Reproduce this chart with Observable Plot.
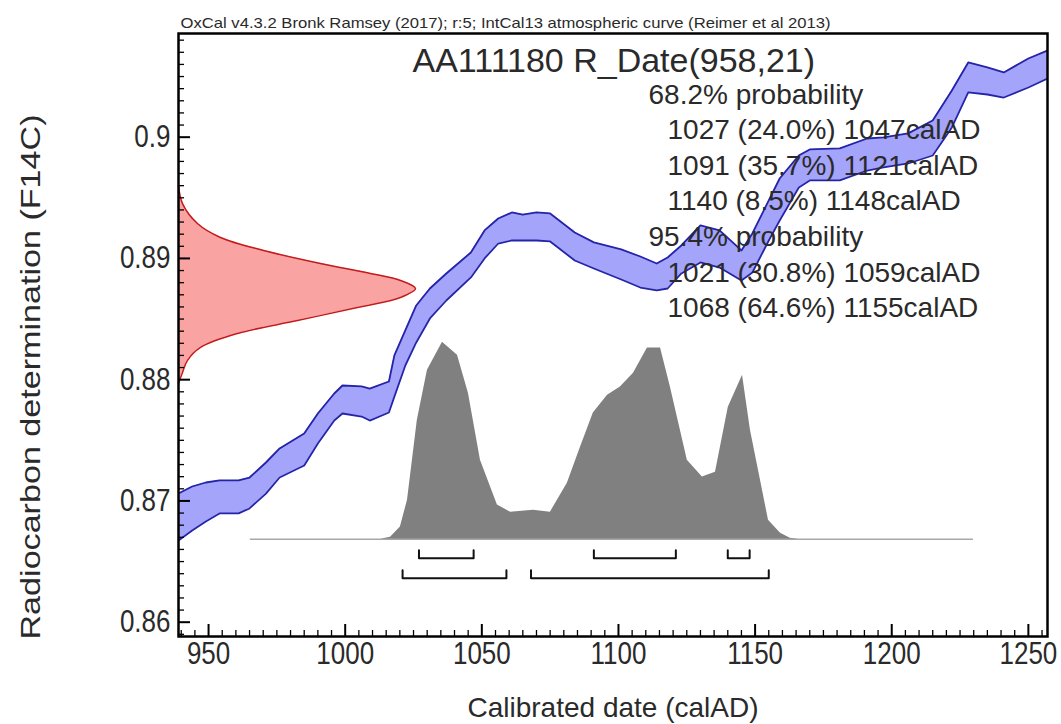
<!DOCTYPE html>
<html><head><meta charset="utf-8">
<script src="https://cdn.jsdelivr.net/npm/d3@7"></script>
<script src="https://cdn.jsdelivr.net/npm/@observablehq/plot@0.6"></script>
<style>body{margin:0;background:#fff}</style>
</head><body><div id="chart"></div>
<script>
// ---- text ----
const headerText = "OxCal v4.3.2 Bronk Ramsey (2017); r:5; IntCal13 atmospheric curve (Reimer et al 2013)";
const titleText = "AA111180 R_Date(958,21)";
const probLines = ["68.2% probability", "1027 (24.0%) 1047calAD", "1091 (35.7%) 1121calAD", "1140 (8.5%) 1148calAD",
                   "95.4% probability", "1021 (30.8%) 1059calAD", "1068 (64.6%) 1155calAD"];
const probIndent = [0, 1, 1, 1, 0, 1, 1];
const xLabel = "Calibrated date (calAD)";
const yLabel = "Radiocarbon determination (F14C)";

// ---- ticks ----
const xMajor = [950, 1000, 1050, 1100, 1150, 1200, 1250];
const xTickLabels = ["950", "1000", "1050", "1100", "1150", "1200", "1250"];
const yMajor = [0.86, 0.87, 0.88, 0.89, 0.90];
const yTickLabels = ["0.86", "0.87", "0.88", "0.89", "0.9"];
const xMinor = d3.range(940, 1256, 5).filter(v => v % 50 !== 0);
const yMinor = d3.range(859, 909, 1).filter(v => v % 10 !== 0).map(v => v / 1000);

// ---- IntCal13 band (calAD, F14C upper / lower) ----
const bandYears = [939, 944, 949, 954, 961, 965, 971, 976, 985, 990, 996, 999, 1006, 1009, 1016, 1018, 1022, 1026, 1031, 1037,
  1046, 1051, 1056, 1061, 1065, 1070, 1075, 1084, 1091, 1101, 1108, 1114, 1118, 1123, 1130, 1137, 1145, 1149, 1155, 1159,
  1166, 1170, 1181, 1191, 1197, 1206, 1215, 1222, 1228, 1235, 1241, 1250, 1257];
const bandUpper = [0.87061, 0.87119, 0.87152, 0.87169, 0.87169, 0.87193, 0.87317, 0.87433, 0.87556, 0.87721, 0.87886, 0.87952,
  0.87944, 0.87927, 0.87985, 0.88200, 0.88406, 0.88612, 0.88752, 0.88876, 0.89049, 0.89231, 0.89329, 0.89379, 0.89362, 0.89379,
  0.89371, 0.89214, 0.89132, 0.89074, 0.89016, 0.88958, 0.89008, 0.89107, 0.89272, 0.89231, 0.89066, 0.89206, 0.89478, 0.89659,
  0.89849, 0.89899, 0.89907, 0.89989, 0.89998, 0.90031, 0.90138, 0.90385, 0.90616, 0.90575, 0.90534, 0.90649, 0.90715];
const bandLower = [0.86674, 0.86756, 0.86831, 0.86897, 0.86897, 0.86938, 0.87061, 0.87193, 0.87292, 0.87474, 0.87663, 0.87721,
  0.87696, 0.87663, 0.87729, 0.87860, 0.88117, 0.88307, 0.88505, 0.88653, 0.88843, 0.89000, 0.89123, 0.89148, 0.89148, 0.89148,
  0.89140, 0.88983, 0.88917, 0.88826, 0.88760, 0.88736, 0.88752, 0.88876, 0.88967, 0.88925, 0.88818, 0.88884, 0.89148, 0.89313,
  0.89585, 0.89643, 0.89643, 0.89725, 0.89750, 0.89783, 0.89849, 0.90080, 0.90369, 0.90352, 0.90327, 0.90410, 0.90484];

// ---- radiocarbon measurement (F14C, relative density) ----
const dateF14C = [0.8960, 0.89452, 0.89288, 0.89173, 0.89066, 0.88958, 0.88876, 0.88818, 0.88752, 0.88678, 0.88595, 0.88488,
  0.88381, 0.88266, 0.88159, 0.8806, 0.8797];
const dateDensity = [0, 0.017, 0.08, 0.177, 0.359, 0.599, 0.81, 0.937, 1.0, 0.937, 0.755, 0.502, 0.249, 0.093, 0.038, 0.017, 0];

// ---- calibrated distribution (calAD, relative probability) ----
const calYears = [1013, 1016.6, 1020.2, 1022.8, 1026.4, 1030.1, 1035.6, 1041.1, 1045.1, 1049.5, 1055.7, 1060.5, 1068.9, 1075.1,
  1081.3, 1086.1, 1090.8, 1096.0, 1100.7, 1105.5, 1110.6, 1115.4, 1119.0, 1125.2, 1130.7, 1135.5, 1140.2, 1145.4, 1148.3,
  1154.9, 1159.3, 1162.9, 1166];
const calProb = [0, 0.01, 0.061, 0.198, 0.604, 0.858, 1.0, 0.934, 0.741, 0.401, 0.173, 0.137, 0.147, 0.137, 0.284, 0.467, 0.640,
  0.731, 0.772, 0.843, 0.970, 0.970, 0.772, 0.401, 0.315, 0.340, 0.670, 0.832, 0.553, 0.096, 0.03, 0.005, 0];
const calSpan = [965.3, 1229.9];

// ---- ranges ----
const range68 = [[1027, 1047], [1091, 1121], [1140, 1148]];
const range95 = [[1021, 1059], [1068, 1155]];

// ---- layout ----
const W = 1061, H = 724, mL = 178, mR = 14, mT = 33, mB = 88;
const innerW = W - mL - mR, innerH = H - mT - mB;
const xDomain = [939, 1257], yDomain = [0.85882, 0.90855];
const calBase = 0.86685, calHeight = 0.01624;
const densityWidth = 86.7;
const bracket68 = [0.86528, 0.86594], bracket95 = [0.86363, 0.86429];

const band = bandYears.map((yr, i) => ({yr, hi: bandUpper[i], lo: bandLower[i]}));
const dateCurve = dateF14C.map((f, i) => ({f, x: xDomain[0] + dateDensity[i] * densityWidth}));
const cal = calYears.map((yr, i) => ({yr, p: calBase + calProb[i] * calHeight}));
const brackets = [];
range68.forEach((r, k) => brackets.push(
  {id: "a" + k, x: r[0], y: bracket68[1]}, {id: "a" + k, x: r[0], y: bracket68[0]},
  {id: "a" + k, x: r[1], y: bracket68[0]}, {id: "a" + k, x: r[1], y: bracket68[1]}));
range95.forEach((r, k) => brackets.push(
  {id: "b" + k, x: r[0], y: bracket95[1]}, {id: "b" + k, x: r[0], y: bracket95[0]},
  {id: "b" + k, x: r[1], y: bracket95[0]}, {id: "b" + k, x: r[1], y: bracket95[1]}));

const ink = "#2a2a2a";
const marks = [
  // measurement
  Plot.areaX(dateCurve, {y: "f", x1: xDomain[0], x2: "x", fill: "#f9a3a3", curve: "catmull-rom"}),
  Plot.lineX(dateCurve, {y: "f", x: "x", stroke: "#c41a1a", strokeWidth: 1.5, curve: "catmull-rom"}),
  // calibration band
  Plot.areaY(band, {x: "yr", y1: "lo", y2: "hi", fill: "#a4a4fb", clip: true}),
  Plot.line(band, {x: "yr", y: "hi", stroke: "#2424a8", strokeWidth: 1.8, clip: true}),
  Plot.line(band, {x: "yr", y: "lo", stroke: "#2424a8", strokeWidth: 1.8, clip: true}),
  // calibrated distribution
  Plot.ruleY([calBase], {x1: calSpan[0], x2: calSpan[1], stroke: "#a8a8a8", strokeWidth: 1.5}),
  Plot.areaY(cal, {x: "yr", y1: calBase, y2: "p", fill: "#808080"}),
  Plot.line(brackets, {x: "x", y: "y", z: "id", stroke: "#111", strokeWidth: 2}),
  // ticks
  Plot.tickX(xMinor, {x: d => d, insetTop: innerH - 6, stroke: "#000", strokeWidth: 1.3}),
  Plot.tickX(xMajor, {x: d => d, insetTop: innerH - 12, stroke: "#000", strokeWidth: 2}),
  Plot.tickY(yMinor, {y: d => d, insetRight: innerW - 6, stroke: "#000", strokeWidth: 1.3}),
  Plot.tickY(yMajor, {y: d => d, insetRight: innerW - 12, stroke: "#000", strokeWidth: 2}),
  Plot.axisX(xMajor, {anchor: "bottom", tickSize: 0, tickPadding: 5, fontSize: 26, fill: ink,
    tickFormat: d => xTickLabels[xMajor.indexOf(d)], label: null}),
  Plot.axisY(yMajor, {anchor: "left", tickSize: 0, tickPadding: 8, fontSize: 26, fill: ink,
    tickFormat: d => yTickLabels[yMajor.indexOf(d)], label: null}),
  Plot.frame({stroke: "#000", strokeWidth: 2.5}),
  // texts
  Plot.text([headerText], {text: d => d, frameAnchor: "top-left", textAnchor: "start", lineAnchor: "bottom", dx: 2, dy: -6, fontSize: 15, fill: ink}),
  Plot.text([titleText], {text: d => d, frameAnchor: "top-left", textAnchor: "start", lineAnchor: "top", dx: 234, dy: 14, fontSize: 34, fill: ink}),
  ...probLines.map((t, i) => Plot.text([t], {text: d => d, frameAnchor: "top-left", textAnchor: "start", lineAnchor: "bottom",
    dx: probIndent[i] ? 489 : 470, dy: 70 + i * 35.6, fontSize: 28, fill: ink})),
  Plot.text([xLabel], {text: d => d, frameAnchor: "bottom", textAnchor: "middle", lineAnchor: "middle", dy: 72, fontSize: 28, fill: ink}),
  Plot.text([yLabel], {text: d => d, frameAnchor: "left", rotate: -90, textAnchor: "middle", lineAnchor: "middle", dx: -147, dy: 42, fontSize: 28, fill: ink})
];

const chart = Plot.plot({
  width: W, height: H, marginLeft: mL, marginRight: mR, marginTop: mT, marginBottom: mB,
  x: {domain: xDomain, axis: null},
  y: {domain: yDomain, axis: null},
  style: {fontFamily: "'Liberation Sans', Arial, sans-serif", background: "#fff", overflow: "visible"},
  marks
});
// mimic the reference's stretched lettering
const svg = d3.select(chart);
svg.selectAll("g[aria-label='x-axis tick label'] text, g[aria-label='y-axis tick label'] text")
  .attr("transform", function () { return (this.getAttribute("transform") || "") + " scale(1,1.2)"; });
svg.selectAll("text").filter(function () { return this.textContent === headerText; })
  .attr("textLength", 650).attr("lengthAdjust", "spacingAndGlyphs");
svg.selectAll("text").filter(function () { return this.textContent === yLabel; })
  .attr("textLength", 525).attr("lengthAdjust", "spacingAndGlyphs");
document.getElementById("chart").appendChild(chart);
</script>
</body></html>
